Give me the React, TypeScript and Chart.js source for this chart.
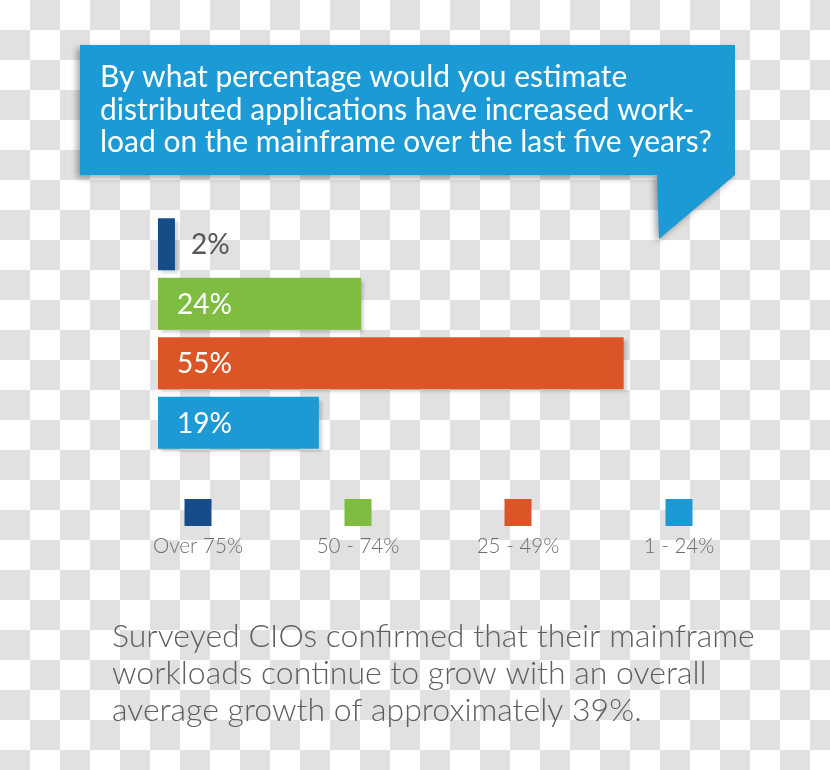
import React, { useEffect, useRef } from "react";
import { Chart, registerables } from "chart.js";

Chart.register(...registerables);

const categories = ["Over 75%", "50 - 74%", "25 - 49%", "1 - 24%"];
const values = [2, 24, 55, 19];
const valueLabels = ["2%", "24%", "55%", "19%"];
const barColors = ["#174c8a", "#7fbd40", "#dc5526", "#1d9ad6"];
const titleLines = [
  "By what percentage would you estimate",
  "distributed applications have increased work-",
  "load on the mainframe over the last five years?",
];
const noteLines = [
  "Surveyed CIOs confirmed that their mainframe",
  "workloads continue to grow with an overall",
  "average growth of approximately 39%.",
];

const FONT = "Lato, 'Open Sans', 'DejaVu Sans', sans-serif";

function fitSize(ctx: CanvasRenderingContext2D, text: string, target: number, weight = "normal") {
  ctx.font = `${weight} 100px ${FONT}`;
  const w = ctx.measureText(text).width;
  return (100 * target) / w;
}

const decorPlugin = {
  id: "decor",
  beforeDraw(chart: any) {
    const ctx: CanvasRenderingContext2D = chart.ctx;
    const W = chart.width;
    const H = chart.height;
    ctx.save();
    ctx.fillStyle = "#ffffff";
    ctx.fillRect(0, 0, W, H);
    ctx.fillStyle = "#e1e1e1";
    const s = 30;
    for (let r = 0; r * s < H; r++) {
      for (let c = 0; c * s < W; c++) {
        if ((r + c) % 2 === 1) ctx.fillRect(c * s, r * s, s, s);
      }
    }
    // callout
    ctx.shadowColor = "rgba(0,0,0,0.35)";
    ctx.shadowBlur = 6;
    ctx.shadowOffsetX = -3;
    ctx.shadowOffsetY = 3;
    ctx.fillStyle = "#1b9ad6";
    ctx.beginPath();
    ctx.moveTo(80, 45);
    ctx.lineTo(735, 45);
    ctx.lineTo(735, 175);
    ctx.lineTo(659, 239);
    ctx.lineTo(657, 175);
    ctx.lineTo(80, 175);
    ctx.closePath();
    ctx.fill();
    ctx.shadowColor = "transparent";
    // title text
    const ts = fitSize(ctx, titleLines[2], 612);
    ctx.font = `normal ${ts}px ${FONT}`;
    ctx.fillStyle = "#ffffff";
    ctx.textBaseline = "alphabetic";
    ctx.textAlign = "left";
    const tBase = [87, 120, 152];
    titleLines.forEach((l, i) => ctx.fillText(l, 100, tBase[i]));
    // note text
    const ns = fitSize(ctx, noteLines[0], 643, "300");
    ctx.font = `300 ${ns}px ${FONT}`;
    ctx.fillStyle = "#5e5e5e";
    const nBase = [647, 684, 721];
    noteLines.forEach((l, i) => ctx.fillText(l, 112, nBase[i]));
    // legend
    const centers = [198, 358, 518, 679];
    const ls = fitSize(ctx, categories[0], 90, "300");
    categories.forEach((c, i) => {
      ctx.fillStyle = barColors[i];
      ctx.fillRect(centers[i] - 13.5, 499, 27, 27);
      ctx.font = `300 ${ls}px ${FONT}`;
      ctx.fillStyle = "#6e6e6e";
      ctx.textAlign = "center";
      ctx.textBaseline = "middle";
      ctx.fillText(c, centers[i], 546);
    });
    ctx.restore();
  },
  beforeDatasetsDraw(chart: any) {
    const ctx = chart.ctx;
    ctx.save();
    ctx.shadowColor = "rgba(0,0,0,0.18)";
    ctx.shadowBlur = 3;
    ctx.shadowOffsetX = 3;
    ctx.shadowOffsetY = 3;
  },
  afterDatasetsDraw(chart: any) {
    const ctx: CanvasRenderingContext2D = chart.ctx;
    ctx.restore();
    ctx.save();
    const meta = chart.getDatasetMeta(0);
    ctx.font = `normal 28px ${FONT}`;
    ctx.textBaseline = "middle";
    ctx.textAlign = "left";
    meta.data.forEach((bar: any, i: number) => {
      const w = bar.x - bar.base;
      if (w > 60) {
        ctx.fillStyle = "#ffffff";
        ctx.fillText(valueLabels[i], bar.base + 19, bar.y + 1);
      } else {
        ctx.fillStyle = "#555555";
        ctx.fillText(valueLabels[i], bar.x + 16, bar.y + 1);
      }
    });
    ctx.restore();
  },
};

export default function App() {
  const ref = useRef<HTMLCanvasElement | null>(null);
  useEffect(() => {
    document.body.style.margin = "0";
    const canvas = ref.current!;
    const chart = new Chart(canvas, {
      type: "bar",
      data: {
        labels: categories,
        datasets: [
          {
            data: values,
            backgroundColor: barColors,
            borderWidth: 0,
            barPercentage: 52 / 59.5,
            categoryPercentage: 1,
          },
        ],
      },
      options: {
        indexAxis: "y",
        responsive: false,
        animation: false,
        events: [],
        layout: { padding: { left: 158, right: 164, top: 214.5, bottom: 317.5 } },
        scales: {
          x: { display: false, min: 0, max: 60 },
          y: { display: false },
        },
        plugins: {
          legend: { display: false },
          title: { display: false },
          tooltip: { enabled: false },
        },
      },
      plugins: [decorPlugin],
    });
    return () => chart.destroy();
  }, []);
  return (
    <div style={{ width: 830, height: 770 }}>
      <canvas ref={ref} width={830} height={770} style={{ display: "block" }} />
    </div>
  );
}
